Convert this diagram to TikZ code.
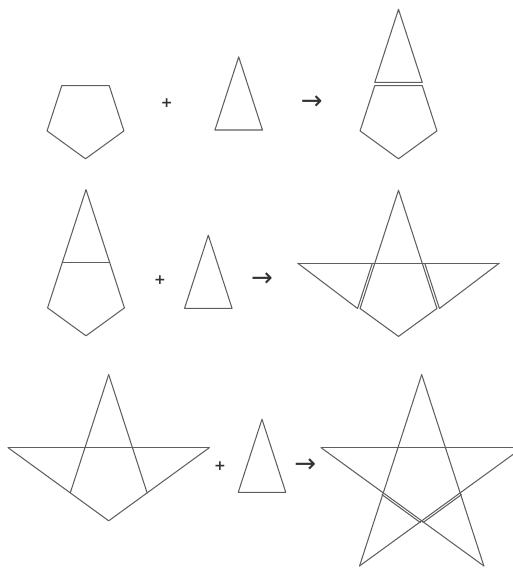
\documentclass[tikz,border=0pt]{standalone}
\usepackage{fontspec}
\newfontfamily\symsans{DejaVu Sans}
\usetikzlibrary{calc}
\definecolor{linegray}{RGB}{95,95,95}
\definecolor{symgray}{RGB}{50,50,50}
\begin{document}
\begin{tikzpicture}[x=1pt,y=-1pt,
  fig/.style={draw=linegray,line width=1.05pt,line join=round,line cap=round},
  plussign/.style={text=symgray,font=\symsans\bfseries\fontsize{14}{14}\selectfont,inner sep=0pt},
  arrowsign/.style={text=symgray,font=\symsans\fontsize{26}{26}\selectfont,inner sep=0pt},
  pentagon/.pic={\draw[fig] (-23.75,0) -- (23.75,0) -- (38.43,45.17) -- (0,73.1) -- (-38.43,45.17) -- cycle;},
  golden/.pic={\draw[fig] (0,-73.1) -- (23.75,0) -- (-23.75,0) -- cycle;},
  kite/.pic={\draw[fig] (0,-73.1) -- (38.43,45.17) -- (0,73.1) -- (-38.43,45.17) -- cycle;}
]
\useasboundingbox (0,0) rectangle (513,568);
\clip (0,0) rectangle (513,568);

% ---------- row 1 ----------
\pic at (85.5,85.7) {pentagon};
\node[plussign] (p1) at (166.7,102.7) {+};
\pic at (238.7,130) {golden};
\node[arrowsign] (a1) at (311.7,102.7) {→};
\pic at (398.5,85.7) {pentagon};
\pic at (398.5,82.4) {golden};

% ---------- row 2 ----------
\begin{scope}[shift={(86,262.7)}]
  \pic {kite};
  \draw[fig] (-23.75,0) -- (23.75,0);
\end{scope}
\node[plussign] (p2) at (160,280) {+};
\pic at (208.3,308.3) {golden};
\node[arrowsign] (a2) at (262,280) {→};
\begin{scope}[shift={(398.5,263.3)}]
  \pic {kite};
  \draw[fig] (-100.6,0) -- (100.6,0);
  \draw[fig] (-100.6,0) -- (-40.93,45.17);
  \draw[fig] (-26.25,0) -- (-40.93,45.17);
  \draw[fig] (100.6,0) -- (40.93,45.17);
  \draw[fig] (26.25,0) -- (40.93,45.17);
\end{scope}

% ---------- row 3 ----------
\begin{scope}[shift={(108.7,447.7)}]
  \draw[fig] (-100.6,0) -- (100.6,0);
  \draw[fig] (0,-73.1) -- (-38.43,45.17);
  \draw[fig] (0,-73.1) -- (38.43,45.17);
  \draw[fig] (-100.6,0) -- (0,73.1) -- (100.6,0);
\end{scope}
\node[plussign] (p3) at (220,465.7) {+};
\pic at (262,492.3) {golden};
\node[arrowsign] (a3) at (305.3,465.7) {→};
\begin{scope}[shift={(421.7,447.7)}]
  \draw[fig] (0,-73.1) -- (-62.18,118.28);
  \draw[fig] (0,-73.1) -- (62.18,118.28);
  \draw[fig] (-100.6,0) -- (100.6,0);
  \draw[fig] (-100.6,0) -- (62.18,118.28);
  \draw[fig] (100.6,0) -- (-62.18,118.28);
  \draw[fig] (-39.72,46.95) -- (-1.29,74.88);
  \draw[fig] (39.72,46.95) -- (1.29,74.88);
\end{scope}
\end{tikzpicture}
\end{document}
